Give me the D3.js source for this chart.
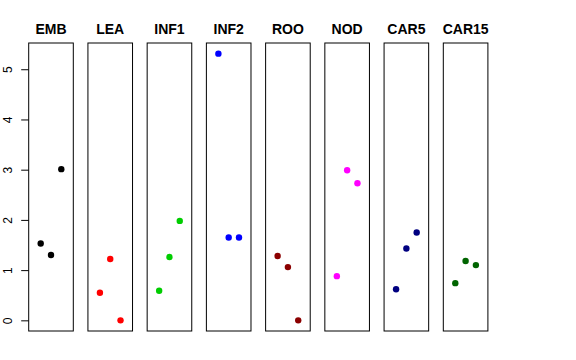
<!DOCTYPE html>
<html>
<head>
<meta charset="utf-8">
<script src="https://cdn.jsdelivr.net/npm/d3@7"></script>
<style>
  html, body { margin: 0; padding: 0; background: #fff; }
  svg { display: block; }
</style>
</head>
<body>
<script>
const categories = ["EMB", "LEA", "INF1", "INF2", "ROO", "NOD", "CAR5", "CAR15"];
const colors = ["#000000", "#FF0000", "#00CD00", "#0000FF", "#8B0000", "#FF00FF", "#000080", "#006400"];
const values = [
  [1.53, 1.30, 3.01],
  [0.55, 1.22, 0.00],
  [0.59, 1.26, 1.98],
  [5.31, 1.65, 1.65],
  [1.28, 1.06, 0.00],
  [0.88, 2.99, 2.73],
  [0.62, 1.43, 1.75],
  [0.74, 1.18, 1.10]
];
const yTicks = [0, 1, 2, 3, 4, 5];

(function () {
const W = 576, H = 360;
const svg = d3.select("body").append("svg").attr("width", W).attr("height", H);

const plotTop = 43, plotBottom = 331;
const yMax = d3.max(values.flat()), yMin = 0;
const pad = (yMax - yMin) * 0.04;
const y = d3.scaleLinear().domain([yMin - pad, yMax + pad]).range([plotBottom, plotTop]);

const band = d3.scaleBand().domain(categories).range([28.7, 487.9]).paddingInner(0.247).paddingOuter(0);
const bw = band.bandwidth();
const x = d3.scaleLinear().domain([2 - 2.165, 2 + 2.165]).range([0, bw]);

categories.forEach((cat, i) => {
  const g = svg.append("g").attr("transform", `translate(${band(cat)},0)`);
  g.append("rect")
    .attr("x", 0).attr("y", plotTop)
    .attr("width", bw).attr("height", plotBottom - plotTop)
    .attr("fill", "none").attr("stroke", "#000").attr("stroke-width", 1);
  g.append("text")
    .attr("x", bw / 2).attr("y", 34)
    .attr("text-anchor", "middle")
    .attr("font-family", "Liberation Sans, Arial, sans-serif")
    .attr("font-weight", "bold")
    .attr("font-size", "14px")
    .text(cat);
  g.selectAll("circle").data(values[i]).enter().append("circle")
    .attr("cx", (d, j) => x(j + 1))
    .attr("cy", d => y(d))
    .attr("r", 3.2)
    .attr("fill", colors[i]);
});

// y axis on first panel
const axisG = svg.append("g").attr("transform", `translate(${band(categories[0])},0)`);
const axis = d3.axisLeft(y).tickValues(yTicks).tickSize(7.5).tickPadding(4).tickFormat(d3.format("d"));
axisG.call(axis);
axisG.select(".domain").remove();
axisG.selectAll(".tick line").attr("stroke", "#000");
axisG.selectAll(".tick text")
  .attr("font-family", "Liberation Sans, Arial, sans-serif")
  .attr("font-size", "12px")
  .attr("fill", "#000")
  .attr("text-anchor", "middle")
  .attr("dy", null)
  .attr("x", null)
  .attr("transform", "translate(-16.3,0) rotate(-90)");
})();
</script>
</body>
</html>
